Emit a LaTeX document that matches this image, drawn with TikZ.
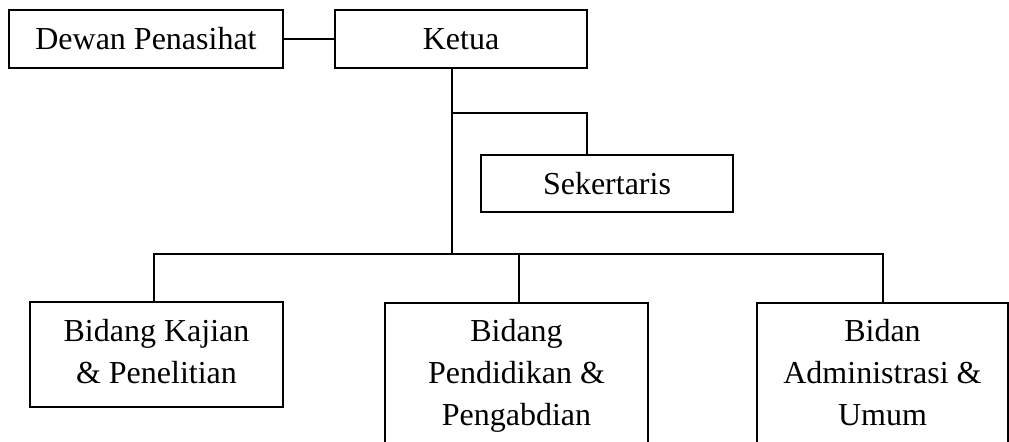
\documentclass[tikz,border=0pt]{standalone}
\usepackage{fontspec}
\setmainfont{Liberation Serif}
\begin{document}
\begin{tikzpicture}[x=0.5pt,y=-0.5pt,
  box/.style={draw=black,line width=1pt,rectangle,inner sep=0pt,align=center,
    font=\fontsize{16}{21}\selectfont},
  conn/.style={draw=black,line width=1pt}]
\useasboundingbox (0,0) rectangle (1009,441);
\clip (0,0) rectangle (1009,441);
\node[box,minimum width=137pt,minimum height=29pt] (dewan) at (146,39) {Dewan Penasihat};
\node[box,minimum width=126pt,minimum height=29pt] (ketua) at (461,39) {Ketua};
\node[box,minimum width=126pt,minimum height=28.5pt] (sek) at (607,183.5) {Sekertaris};
\node[box,minimum width=126.5pt,minimum height=52.5pt] (kajian) at (156.5,354.5) {\strut Bidang Kajian\\\& Penelitian\strut};
\node[box,minimum width=131.5pt,minimum height=72pt] (pend) at (516.5,375) {\strut Bidang\\Pendidikan \&\\Pengabdian\strut};
\node[box,minimum width=125.5pt,minimum height=72pt] (admin) at (882.5,375) {\strut Bidan\\Administrasi \&\\Umum\strut};
\coordinate (j1) at (452,113);
\coordinate (j2) at (452,254);
\draw[conn] (dewan.east) -- (ketua.west);
\draw[conn] (ketua.south -| j1) -- (j2);
\draw[conn] (j1) -| ([xshift=-10pt]sek.north);
\draw[conn] ([xshift=-1.25pt]kajian.north) |- (j2) -| (admin.north);
\draw[conn] (j2) -| ([xshift=1.25pt]pend.north);
\end{tikzpicture}
\end{document}
